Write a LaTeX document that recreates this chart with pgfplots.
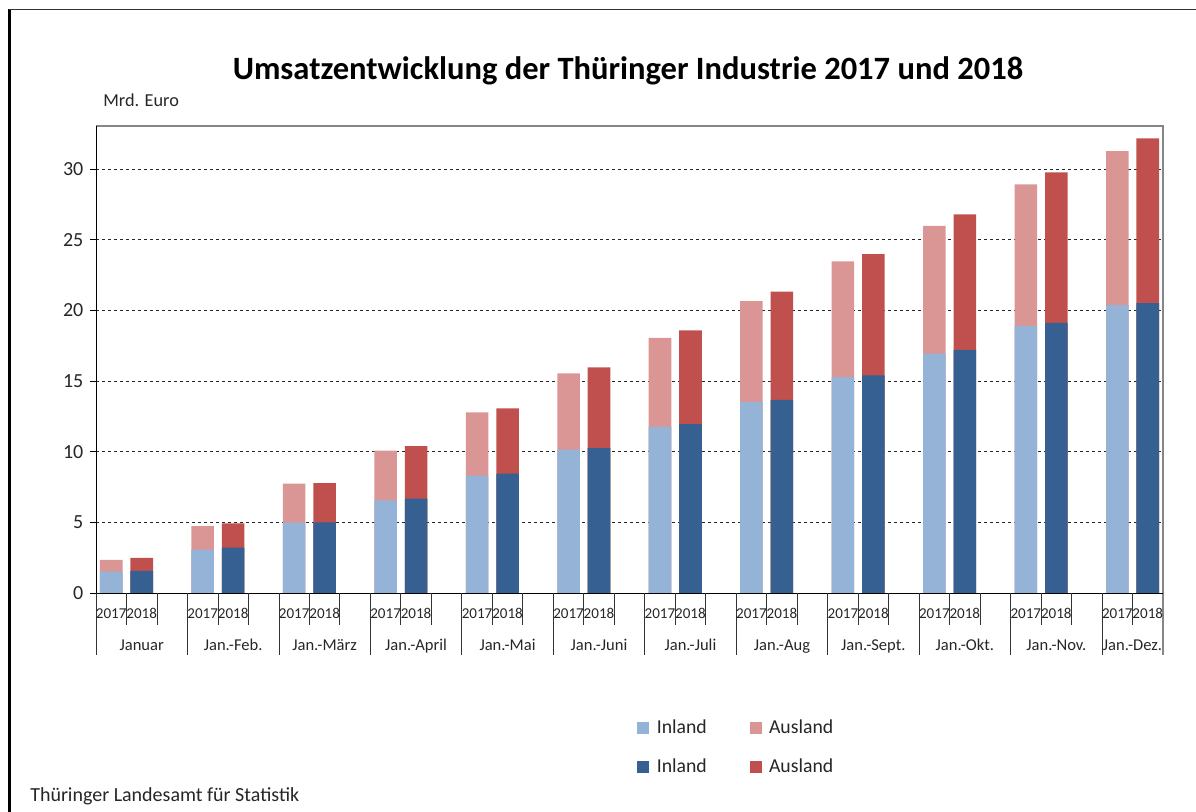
\documentclass[border=0pt]{standalone}
\usepackage{pgfplots}
\usepackage{pgfplotstable}
\pgfplotsset{compat=1.18}
\usepackage{fontspec}
\setmainfont{Carlito}

\definecolor{inA}{HTML}{95B3D7}
\definecolor{ausA}{HTML}{D99694}
\definecolor{inB}{HTML}{366092}
\definecolor{ausB}{HTML}{C0504D}
\definecolor{frameg}{HTML}{868686}

\pgfplotstableread{
x in aus
0.5 1.52 0.83
3.5 3.07 1.67
6.5 4.98 2.76
9.5 6.56 3.51
12.5 8.30 4.49
15.5 10.14 5.40
18.5 11.75 6.30
21.5 13.52 7.14
24.5 15.28 8.19
27.5 16.94 9.04
30.5 18.91 10.00
33.5 20.38 10.89
}\dataA

\pgfplotstableread{
x in aus
1.5 1.56 0.92
4.5 3.21 1.72
7.5 5.00 2.78
10.5 6.68 3.72
13.5 8.44 4.63
16.5 10.26 5.71
19.5 11.96 6.63
22.5 13.66 7.66
25.5 15.40 8.58
28.5 17.21 9.58
31.5 19.11 10.65
34.5 20.52 11.65
}\dataB

\begin{document}
\begin{tikzpicture}
\path[use as bounding box] (0pt,0pt) rectangle (897pt,-609pt);
\begin{scope}[x=0.75pt,y=-0.75pt]
\draw[line width=2.25pt, black] (9.5,9.5) -- (9.5,812);
\draw[line width=0.75pt, black!80] (8.5,10) -- (1196,10);
\node[anchor=base, font=\fontsize{24.4}{28}\selectfont\bfseries] at (628,80) {Umsatzentwicklung der Thüringer Industrie 2017 und 2018};
\node[anchor=west, font=\fontsize{13.7}{16}\selectfont, text=black!85, inner sep=0pt] at (103,100.5) {Mrd. Euro};
\node[anchor=west, font=\fontsize{15}{18}\selectfont, text=black!85, inner sep=0pt] at (30,796) {Thüringer Landesamt für Statistik};
\end{scope}
\begin{axis}[
  at={(72pt,-444.75pt)}, anchor=south west,
  scale only axis, width=800.25pt, height=350.25pt,
  xmin=0, xmax=35, ymin=0, ymax=33.05,
  clip=false,
  axis line style={draw=none},
  xtick=\empty,
  ytick={0,5,...,30},
  tick pos=left, tick align=outside,
  major tick length=4.5pt,
  ytick style={black, line width=0.6pt},
  ymajorgrids,
  major grid style={black!85, line width=0.6pt, dash pattern=on 2.6pt off 1.9pt},
  /pgf/number format/assume math mode=true,
  yticklabel style={font=\fontsize{15}{17}\selectfont, text=black!85, xshift=-1.5pt},
  legend columns=2,
  legend cell align=left,
  legend style={at={(rel axis cs:0.507,-0.266)}, anchor=north west, draw=none, inner sep=0pt,
    font=\fontsize{14.8}{17}\selectfont, text=black!85,
    /tikz/every odd column/.append style={column sep=4pt},
    /tikz/every even column/.append style={column sep=30pt},
    row sep=13.3pt},
  bar/.style={ybar, bar width=0.74, bar shift=0pt, draw=none, fill=#1, forget plot},
]
\addplot[bar=ausA] table[x=x, y expr=\thisrow{in}+\thisrow{aus}] {\dataA};
\addplot[bar=inA] table[x=x, y=in] {\dataA};
\addplot[bar=ausB] table[x=x, y expr=\thisrow{in}+\thisrow{aus}] {\dataB};
\addplot[bar=inB] table[x=x, y=in] {\dataB};

\addlegendimage{legend image code/.code={\fill[inA] (0pt,-4.1pt) rectangle (8.25pt,4.1pt);}}
\addlegendentry{Inland}
\addlegendimage{legend image code/.code={\fill[ausA] (0pt,-4.1pt) rectangle (8.25pt,4.1pt);}}
\addlegendentry{Ausland}
\addlegendimage{legend image code/.code={\fill[inB] (0pt,-4.1pt) rectangle (8.25pt,4.1pt);}}
\addlegendentry{Inland}
\addlegendimage{legend image code/.code={\fill[ausB] (0pt,-4.1pt) rectangle (8.25pt,4.1pt);}}
\addlegendentry{Ausland}

% frame
\draw[frameg, line width=0.9pt] (rel axis cs:0,1) -- (rel axis cs:1,1) -- (rel axis cs:1,0) -- ++(0pt,-46.5pt);
\draw[black, line width=0.7pt] (rel axis cs:0,1) -- (rel axis cs:0,0) -- (rel axis cs:1,0);
% category separators
\pgfplotsinvokeforeach{0,3,6,9,12,15,18,21,24,27,30,33}{
  \draw[black!80, line width=0.6pt] (axis cs:#1,0) -- ++(0pt,-46.5pt);
}
\pgfplotsinvokeforeach{1,2,4,5,7,8,10,11,13,14,16,17,19,20,22,23,25,26,28,29,31,32,34}{
  \draw[black!80, line width=0.6pt] (axis cs:#1,0) -- ++(0pt,-24pt);
}
\pgfplotsinvokeforeach{0.5,3.5,6.5,9.5,12.5,15.5,18.5,21.5,24.5,27.5,30.5,33.5}{
  \node[anchor=base, inner sep=0pt, font=\fontsize{11.3}{12}\selectfont, text=black!85] at ([yshift=-18.75pt]axis cs:#1,0) {2017};
}
\pgfplotsinvokeforeach{1.5,4.5,7.5,10.5,13.5,16.5,19.5,22.5,25.5,28.5,31.5,34.5}{
  \node[anchor=base, inner sep=0pt, font=\fontsize{11.3}{12}\selectfont, text=black!85] at ([yshift=-18.75pt]axis cs:#1,0) {2018};
}
\tikzset{grp/.style={anchor=base, inner sep=0pt, font=\fontsize{12.4}{14}\selectfont, text=black!85}}
\node[grp] at ([yshift=-42.75pt]axis cs:1.5,0) {Januar};
\node[grp] at ([yshift=-42.75pt]axis cs:4.5,0) {Jan.-Feb.};
\node[grp] at ([yshift=-42.75pt]axis cs:7.5,0) {Jan.-März};
\node[grp] at ([yshift=-42.75pt]axis cs:10.5,0) {Jan.-April};
\node[grp] at ([yshift=-42.75pt]axis cs:13.5,0) {Jan.-Mai};
\node[grp] at ([yshift=-42.75pt]axis cs:16.5,0) {Jan.-Juni};
\node[grp] at ([yshift=-42.75pt]axis cs:19.5,0) {Jan.-Juli};
\node[grp] at ([yshift=-42.75pt]axis cs:22.5,0) {Jan.-Aug};
\node[grp] at ([yshift=-42.75pt]axis cs:25.5,0) {Jan.-Sept.};
\node[grp] at ([yshift=-42.75pt]axis cs:28.5,0) {Jan.-Okt.};
\node[grp] at ([yshift=-42.75pt]axis cs:31.5,0) {Jan.-Nov.};
\node[grp] at ([yshift=-42.75pt]axis cs:34,0) {Jan.-Dez.};
\end{axis}
\end{tikzpicture}
\end{document}
